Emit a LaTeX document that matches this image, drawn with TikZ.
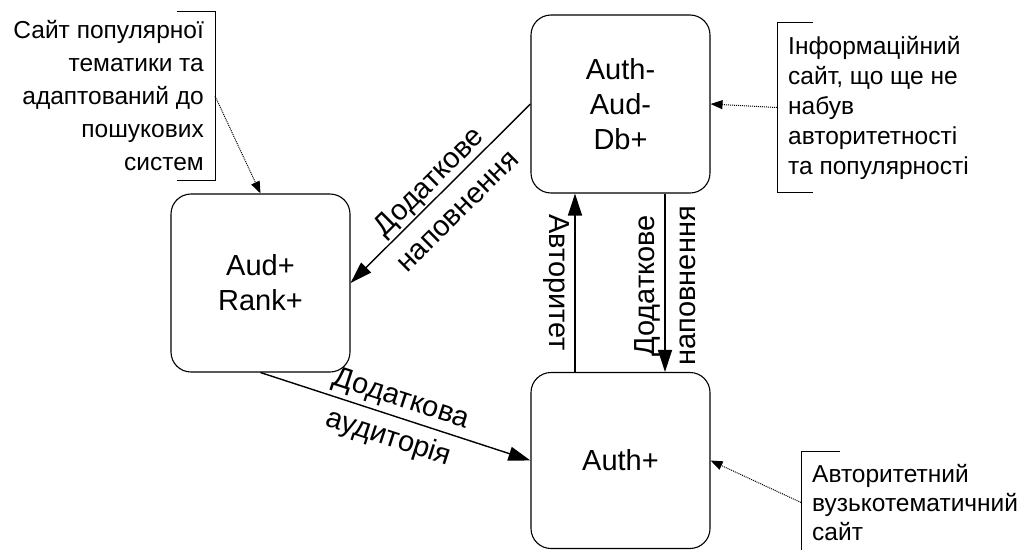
\documentclass[tikz,border=0pt]{standalone}
\usepackage{fontspec}
\setmainfont{Liberation Sans}
\usetikzlibrary{arrows.meta,positioning}

\begin{document}
\begin{tikzpicture}[x=1pt,y=-1pt]
  \tikzset{state/.style={draw,line width=1.1pt,rounded corners=20pt,minimum width=179pt,minimum height=178pt,align=center,font=\fontsize{29}{35}\selectfont},
    flow/.style={-{Triangle[length=22pt,width=14pt]},line width=1.4pt},
    lbl/.style={align=center,font=\fontsize{29}{41}\selectfont,inner sep=2pt},
    note/.style={align=left,font=\fontsize{24.5}{30}\selectfont,inner xsep=11pt,inner ysep=0pt},
    hint/.style={-{Triangle[length=12pt,width=9pt]},densely dotted,line width=1pt},
    brace/.style={line width=1pt}}
  \useasboundingbox (0,0) rectangle (1025,549);
  % states
  \node[state] (ar) at (260.5,283) {Aud+\\Rank+};
  \node[state] (db) at (620.5,104) {Auth-\\Aud-\\Db+};
  \node[state,minimum height=176pt] (au) at (620.5,460.5) {Auth+};
  % transitions
  \draw[flow] (db.west) -- (ar.east) node[lbl,midway,sloped,yshift=-3pt] {Додаткове\\наповнення};
  \draw[flow] (ar.south) -- (au.west) node[lbl,midway,sloped,yshift=-3pt] {Додаткова\\аудиторія};
  \draw[flow] ([xshift=-45.5pt]au.north) -- ([xshift=-45.5pt]db.south) node[lbl,midway,rotate=-90,anchor=north,inner sep=5pt] {Авторитет};
  \draw[flow] ([xshift=44.5pt]db.south) -- ([xshift=44.5pt]au.north) node[lbl,midway,rotate=90,xshift=-3pt] {Додаткове\\наповнення};
  % notes
  \node[note,align=right,font=\fontsize{24.5}{33}\selectfont,minimum height=168pt,anchor=east] (n1) at (215,96) {Сайт популярної\\тематики та\\адаптований до\\пошукових\\систем};
  \draw[brace] ([xshift=-38pt]n1.north east) -- (n1.north east) -- (n1.south east) -- ([xshift=-38pt]n1.south east);
  \draw[hint] (n1.east) -- (ar.north);
  \node[note,minimum height=169pt,anchor=west] (n2) at (777,107.5) {Інформаційний\\сайт, що ще не\\набув\\авторитетності\\та популярності};
  \draw[brace] ([xshift=36pt]n2.north west) -- (n2.north west) -- (n2.south west) -- ([xshift=36pt]n2.south west);
  \draw[hint] (n2.west) -- (db.east);
  \node[note,font=\fontsize{24.5}{29}\selectfont,minimum height=102pt,anchor=west] (n3) at (801,502.5) {Авторитетний\\вузькотематичний\\сайт};
  \draw[brace] ([xshift=39pt]n3.north west) -- (n3.north west) -- (n3.south west) -- ([xshift=39pt]n3.south west);
  \draw[hint] (n3.west) -- (au.east);
\end{tikzpicture}
\end{document}
